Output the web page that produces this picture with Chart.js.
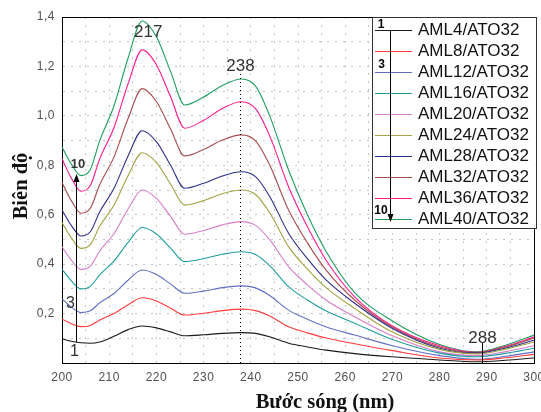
<!DOCTYPE html>
<html>
<head>
<meta charset="utf-8">
<script src="https://cdn.jsdelivr.net/npm/chart.js@4.4.0/dist/chart.umd.min.js"></script>
<style>
  html, body { margin: 0; padding: 0; background: #fff; }
</style>
</head>
<body>
<canvas id="spectra" width="541" height="412"></canvas>
<script>
// wavelength (nm) sampled along the curves
const wavelengths = [200, 202, 204, 206, 208, 211, 214, 217, 220, 223, 226, 230, 234, 238, 241, 244, 248, 252, 256, 262, 270, 280, 288, 294, 300];

const seriesNames = ['AML4/ATO32', 'AML8/ATO32', 'AML12/ATO32', 'AML16/ATO32', 'AML20/ATO32',
                     'AML24/ATO32', 'AML28/ATO32', 'AML32/ATO32', 'AML36/ATO32', 'AML40/ATO32'];

// absorbance
const aml4  = [0.097, 0.088, 0.082, 0.080, 0.085, 0.108, 0.135, 0.150, 0.142, 0.126, 0.110, 0.114, 0.120, 0.123, 0.120, 0.106, 0.080, 0.065, 0.052, 0.038, 0.025, 0.012, 0.005, 0.011, 0.020];
const aml8  = [0.178, 0.159, 0.147, 0.152, 0.174, 0.200, 0.236, 0.264, 0.251, 0.222, 0.194, 0.201, 0.212, 0.218, 0.212, 0.190, 0.147, 0.122, 0.101, 0.078, 0.050, 0.020, 0.012, 0.021, 0.035];
const aml12 = [0.260, 0.226, 0.204, 0.211, 0.244, 0.281, 0.335, 0.376, 0.358, 0.320, 0.282, 0.291, 0.305, 0.312, 0.304, 0.273, 0.214, 0.177, 0.146, 0.113, 0.070, 0.030, 0.015, 0.027, 0.045];
const aml16 = [0.380, 0.332, 0.300, 0.310, 0.357, 0.412, 0.488, 0.548, 0.522, 0.465, 0.410, 0.422, 0.440, 0.450, 0.439, 0.394, 0.309, 0.255, 0.210, 0.161, 0.095, 0.040, 0.025, 0.039, 0.060];
const aml20 = [0.470, 0.415, 0.379, 0.392, 0.453, 0.523, 0.623, 0.700, 0.666, 0.593, 0.521, 0.536, 0.559, 0.572, 0.557, 0.499, 0.390, 0.316, 0.254, 0.187, 0.110, 0.045, 0.030, 0.046, 0.070];
const aml24 = [0.568, 0.506, 0.464, 0.479, 0.553, 0.638, 0.758, 0.851, 0.811, 0.724, 0.639, 0.657, 0.685, 0.700, 0.682, 0.608, 0.471, 0.380, 0.304, 0.221, 0.125, 0.055, 0.037, 0.056, 0.085];
const aml28 = [0.619, 0.556, 0.514, 0.531, 0.612, 0.706, 0.838, 0.940, 0.896, 0.800, 0.707, 0.727, 0.757, 0.774, 0.754, 0.674, 0.525, 0.422, 0.335, 0.242, 0.140, 0.060, 0.040, 0.061, 0.092];
const aml32 = [0.730, 0.656, 0.606, 0.626, 0.722, 0.833, 0.989, 1.110, 1.058, 0.947, 0.838, 0.864, 0.902, 0.923, 0.899, 0.801, 0.619, 0.486, 0.375, 0.255, 0.145, 0.065, 0.042, 0.065, 0.100];
const aml36 = [0.826, 0.747, 0.695, 0.718, 0.827, 0.952, 1.130, 1.267, 1.207, 1.077, 0.950, 0.982, 1.030, 1.057, 1.029, 0.919, 0.713, 0.551, 0.415, 0.268, 0.150, 0.070, 0.043, 0.068, 0.105];
const aml40 = [0.874, 0.804, 0.758, 0.783, 0.900, 1.040, 1.234, 1.384, 1.320, 1.180, 1.044, 1.076, 1.123, 1.149, 1.120, 1.000, 0.781, 0.600, 0.450, 0.285, 0.170, 0.075, 0.045, 0.072, 0.113];

const allSeries = [aml4, aml8, aml12, aml16, aml20, aml24, aml28, aml32, aml36, aml40];
const colors = ['#1a1a1a', '#ff3b3b', '#5f70c4', '#1f9e9e', '#d67ccb', '#a3a343', '#2e2e8c', '#a84a4a', '#ff1a8c', '#1f9e5e'];

// peak / valley markers
const peakMarks = [217, 238, 288];

const sans = '"Liberation Sans", Arial, sans-serif';
const serif = '"Liberation Serif", "Times New Roman", serif';

const arrow = (ctx, x, yTail, yTip) => {
  const dir = yTip < yTail ? 1 : -1;
  ctx.beginPath();
  ctx.moveTo(x, yTail);
  ctx.lineTo(x, yTip + dir * 6);
  ctx.stroke();
  ctx.beginPath();
  ctx.moveTo(x, yTip);
  ctx.lineTo(x - 3, yTip + dir * 8);
  ctx.lineTo(x + 3, yTip + dir * 8);
  ctx.closePath();
  ctx.fill();
};

const decor = {
  id: 'decor',
  beforeDraw(chart) {
    chart.ctx.letterSpacing = '0.5px';
  },
  afterDraw(chart) {
    const {ctx, chartArea: area, scales: {x, y}} = chart;
    ctx.save();
    ctx.letterSpacing = '0px';

    // frame top + right
    ctx.strokeStyle = '#000';
    ctx.lineWidth = 1;
    ctx.beginPath();
    ctx.moveTo(area.left, area.top + 0.5);
    ctx.lineTo(area.right + 0.5, area.top + 0.5);
    ctx.lineTo(area.right + 0.5, area.bottom);
    ctx.stroke();

    // marker lines
    const x238 = Math.round(x.getPixelForValue(peakMarks[1]) - 1) + 0.5;
    ctx.setLineDash([1, 3]);
    ctx.beginPath();
    ctx.moveTo(x238, 74);
    ctx.lineTo(x238, area.bottom);
    ctx.stroke();
    ctx.setLineDash([]);
    const x288 = Math.round(x.getPixelForValue(peakMarks[2]) + 5) + 0.5;
    ctx.beginPath();
    ctx.moveTo(x288, 343);
    ctx.lineTo(x288, area.bottom);
    ctx.stroke();

    // peak labels
    ctx.fillStyle = '#333';
    ctx.font = '17px ' + sans;
    ctx.textAlign = 'center';
    ctx.textBaseline = 'alphabetic';
    ctx.fillText(String(peakMarks[0]), x.getPixelForValue(peakMarks[0]) + 6, 37);
    ctx.fillText(String(peakMarks[1]), x238, 71);
    ctx.fillText(String(peakMarks[2]), x288, 343);

    // arrow inside plot (1 -> 10)
    ctx.fillStyle = '#000';
    ctx.strokeStyle = '#000';
    arrow(ctx, 76.5, 342, 174);
    ctx.fillStyle = '#333';
    ctx.font = '16px ' + sans;
    ctx.textAlign = 'center';
    ctx.fillText('1', 74.5, 356);
    ctx.fillText('3', 70.5, 308);
    ctx.font = 'bold 13px ' + sans;
    ctx.fillText('10', 78, 168);

    // legend box
    const bx = 372, by = 17, bw = 164, bh = 211;
    ctx.fillStyle = '#fff';
    ctx.fillRect(bx, by, bw, bh);
    ctx.strokeStyle = '#333';
    ctx.strokeRect(bx + 0.5, by + 0.5, bw, bh);
    ctx.font = '17px ' + sans;
    ctx.textAlign = 'left';
    ctx.textBaseline = 'middle';
    seriesNames.forEach((name, i) => {
      const ry = Math.round(29.5 + i * 21) + 0.5;
      ctx.strokeStyle = colors[i];
      ctx.lineWidth = 1;
      ctx.beginPath();
      ctx.moveTo(375, ry);
      ctx.lineTo(412, ry);
      ctx.stroke();
      ctx.fillStyle = '#111';
      ctx.fillText(name, 418, ry);
    });
    ctx.strokeStyle = '#000';
    ctx.fillStyle = '#000';
    arrow(ctx, 390.5, 30, 222);
    ctx.font = 'bold 12px ' + sans;
    ctx.textAlign = 'center';
    ctx.textBaseline = 'alphabetic';
    ctx.fillText('1', 381, 28);
    ctx.fillText('3', 381.5, 68);
    ctx.fillText('10', 381, 214);

    // axis titles
    ctx.fillStyle = '#111';
    ctx.font = 'bold 20.5px ' + serif;
    ctx.textAlign = 'center';
    ctx.fillText('Bước sóng (nm)', 325, 408);
    ctx.translate(27, 186);
    ctx.rotate(-Math.PI / 2);
    ctx.fillText('Biên độ', 0, 0);
    ctx.restore();
  }
};

new Chart(document.getElementById('spectra'), {
  type: 'line',
  data: {
    datasets: allSeries.map((vals, i) => ({
      label: seriesNames[i],
      data: wavelengths.map((w, j) => ({x: w, y: vals[j]})),
      borderColor: colors[i],
      borderWidth: 1.1,
      pointRadius: 0,
      fill: false,
      cubicInterpolationMode: 'monotone'
    }))
  },
  options: {
    responsive: false,
    animation: false,
    layout: {padding: {top: 17, right: 7, left: 0, bottom: 0}},
    plugins: {legend: {display: false}, tooltip: {enabled: false}},
    scales: {
      x: {
        type: 'linear',
        min: 200,
        max: 300,
        afterFit: s => { s.height = 49; s.paddingLeft = 0; s.paddingRight = 0; },
        ticks: {
          stepSize: 5,
          autoSkip: false,
          maxRotation: 0,
          padding: 7,
          color: '#505050',
          font: {family: sans, size: 12},
          callback: v => (v % 10 === 0 ? String(v) : '')
        },
        grid: {color: '#c4c4c4', drawTicks: false},
        border: {display: true, color: '#000', width: 1, dash: [2, 6]}
      },
      y: {
        min: 0,
        max: 1.4,
        afterFit: s => { s.width = 62; s.paddingTop = 0; s.paddingBottom = 0; },
        ticks: {
          stepSize: 0.1,
          autoSkip: false,
          padding: 7,
          color: '#505050',
          font: {family: sans, size: 12},
          callback: v => {
            const t = Math.round(v * 10);
            return (t > 0 && t % 2 === 0) ? (t / 10).toFixed(1).replace('.', ',') : '';
          }
        },
        grid: {color: '#c4c4c4', drawTicks: false},
        border: {display: true, color: '#000', width: 1, dash: [2, 6]}
      }
    }
  },
  plugins: [decor]
});
</script>
</body>
</html>
